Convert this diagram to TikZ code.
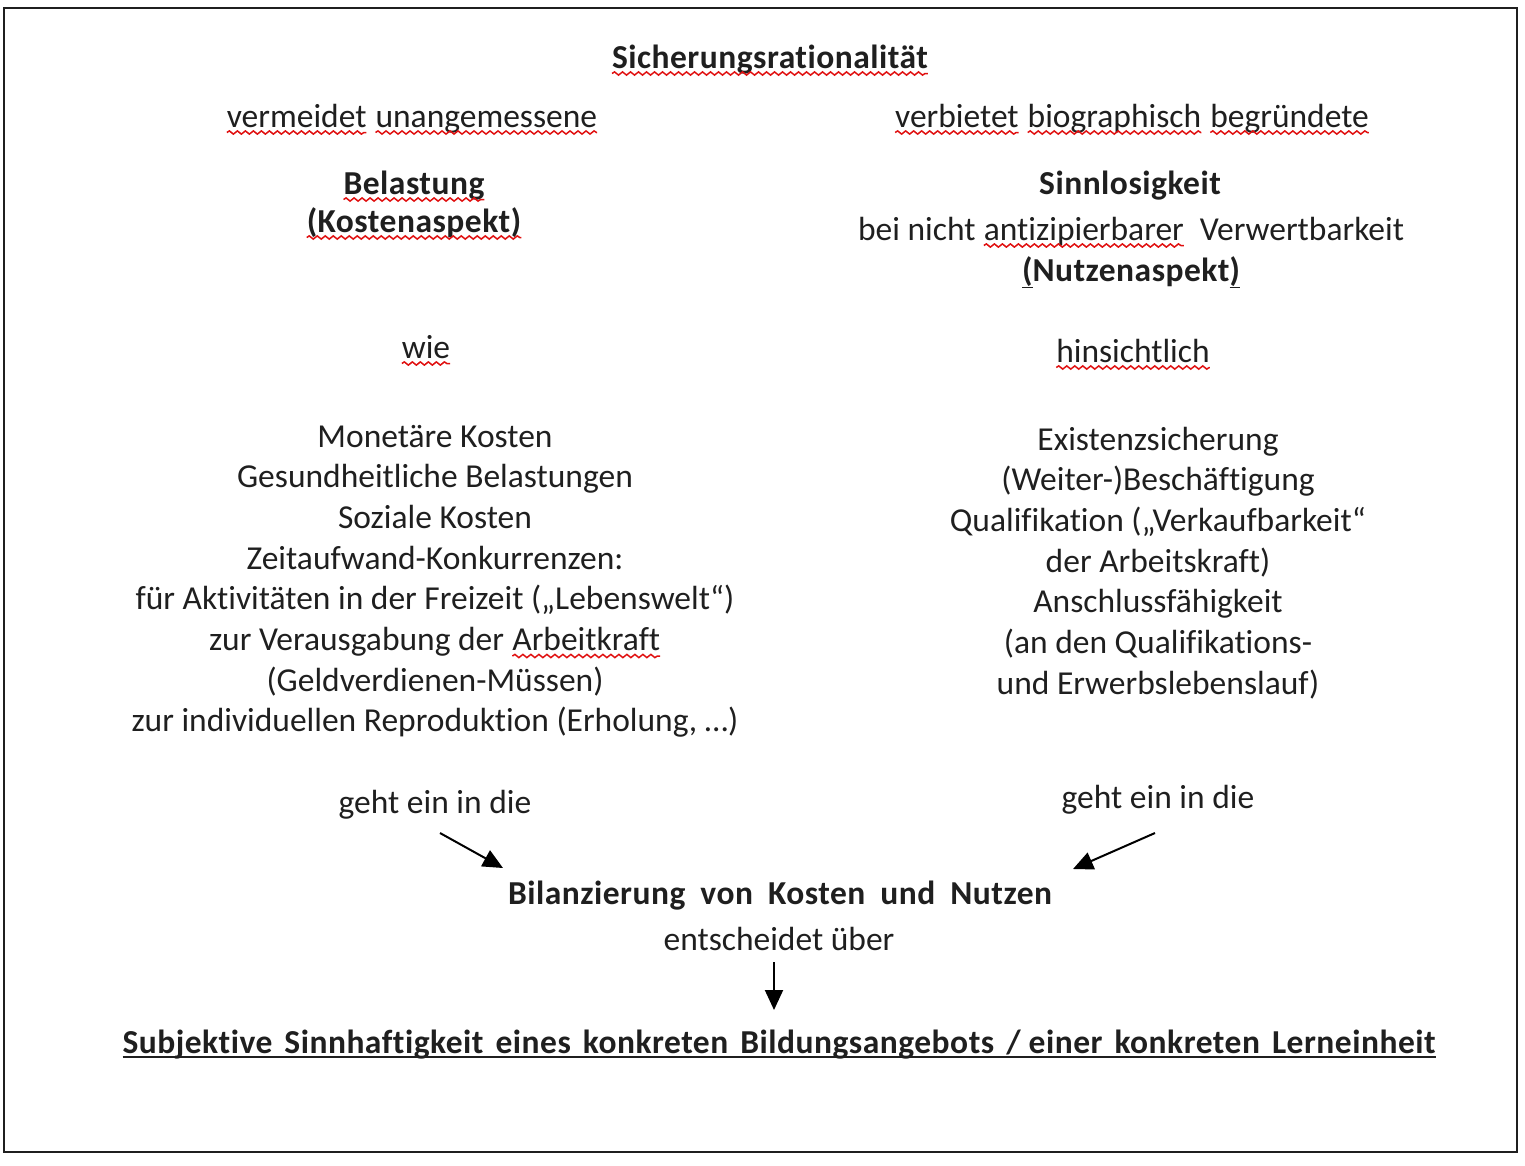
\documentclass[tikz,border=0pt]{standalone}
\usepackage{fontspec}
\setmainfont{Carlito}[Ligatures=NoCommon,BoldFeatures={LetterSpace=1.5}]
\usetikzlibrary{decorations.pathmorphing,arrows.meta}
\definecolor{ink}{HTML}{1F1F1F}
\definecolor{wavered}{HTML}{E01010}
\tikzset{
  txt/.style={anchor=base,inner sep=0pt,outer sep=0pt,text=ink,font=\fontsize{33.5}{40.7}\selectfont},
  btxt/.style={txt,font=\fontsize{33.5}{40.7}\selectfont\bfseries},
  wavyred/.style={draw=wavered,line width=1.5pt,decorate,decoration={snake,amplitude=1.6pt,segment length=8pt}},
  arr/.style={draw=black,line width=2pt,-{Triangle[length=20pt,width=18pt]}},
  frame/.style={draw=ink,line width=2.5pt}
}
\newcommand\wv[1]{\tikz[baseline=(w.base)]{\node[inner sep=0pt,outer sep=0pt,anchor=base](w){#1};\path[wavyred]([yshift=-5.5pt]w.base west)--([yshift=-5.5pt]w.base east);}}
\newcommand\gapS{\hspace{12pt}}
\newcommand\gapB{\hspace{15pt}}
\begin{document}
\begin{tikzpicture}[x=1pt,y=-1pt]
\useasboundingbox (0,0) rectangle (1525,1165);
\draw[frame] (4,8) rectangle (1517,1152);

\node[btxt] (title) at (770,68) {\wv{Sicherungsrationalität}};

\node[txt] (lv) at (412,127) {\wv{vermeidet} \wv{unangemessene}};
\node[txt] (rv) at (1132,127) {\wv{verbietet} \wv{biographisch} \wv{begründete}};

\node[btxt] (bel) at (414,194) {\wv{Belastung}};
\node[btxt] (kost) at (414,232) {\wv{(Kostenaspekt)}};

\node[btxt] (sinn) at (1130,194) {Sinnlosigkeit};
\node[txt] (bei) at (1131,240) {bei nicht \wv{antizipierbarer}\ \ Verwertbarkeit};
\node[btxt] (nutz) at (1131,281) {\underline{(}Nutzenaspekt\underline{)}};

\node[txt] (wie) at (426,358) {\wv{wie}};
\node[txt] (hin) at (1133,362) {\wv{hinsichtlich}};

\foreach \t [count=\i] in {{Monetäre Kosten},{Gesundheitliche Belastungen},{Soziale Kosten},{Zeitaufwand-Konkurrenzen:},{für Aktivitäten in der Freizeit („Lebenswelt“)},{zur Verausgabung der \wv{Arbeitkraft}},{(Geldverdienen-Müssen)},{zur individuellen Reproduktion (Erholung, …)}}
  \node[txt] (L\i) at (435,{447+40.7*(\i-1)}) {\t};

\foreach \t [count=\i] in {{Existenzsicherung},{(Weiter-)Beschäftigung},{Qualifikation („Verkaufbarkeit“},{der Arbeitskraft)},{Anschlussfähigkeit},{(an den Qualifikations-},{und Erwerbslebenslauf)}}
  \node[txt] (R\i) at (1158,{450+40.7*(\i-1)}) {\t};

\node[txt] (gl) at (435,813) {geht ein in die};
\node[txt] (gr) at (1158,808) {geht ein in die};

\node[btxt] (bil) at (780,904) {Bilanzierung\gapB von\gapB Kosten\gapB und\gapB Nutzen};
\node[txt] (ent) at (779,950) {entscheidet über};

\node[btxt] (subj) at (779,1053) {Subjektive\gapS Sinnhaftigkeit\gapS eines\gapS konkreten\gapS Bildungsangebots\gapS /\ einer\gapS konkreten\gapS Lerneinheit};
\draw[draw=ink,line width=2pt] ([yshift=-4pt]subj.base west) -- ([yshift=-4pt]subj.base east);

\coordinate (a1s) at (440,833);
\coordinate (a1e) at (503,868);
\coordinate (a2s) at (1155,833);
\coordinate (a2e) at (1073,869);
\coordinate (a3s) at (774,962);
\coordinate (a3e) at (774,1010);
\draw[arr] (a1s) -- (a1e);
\draw[arr] (a2s) -- (a2e);
\draw[arr] (a3s) -- (a3e);
\end{tikzpicture}
\end{document}
